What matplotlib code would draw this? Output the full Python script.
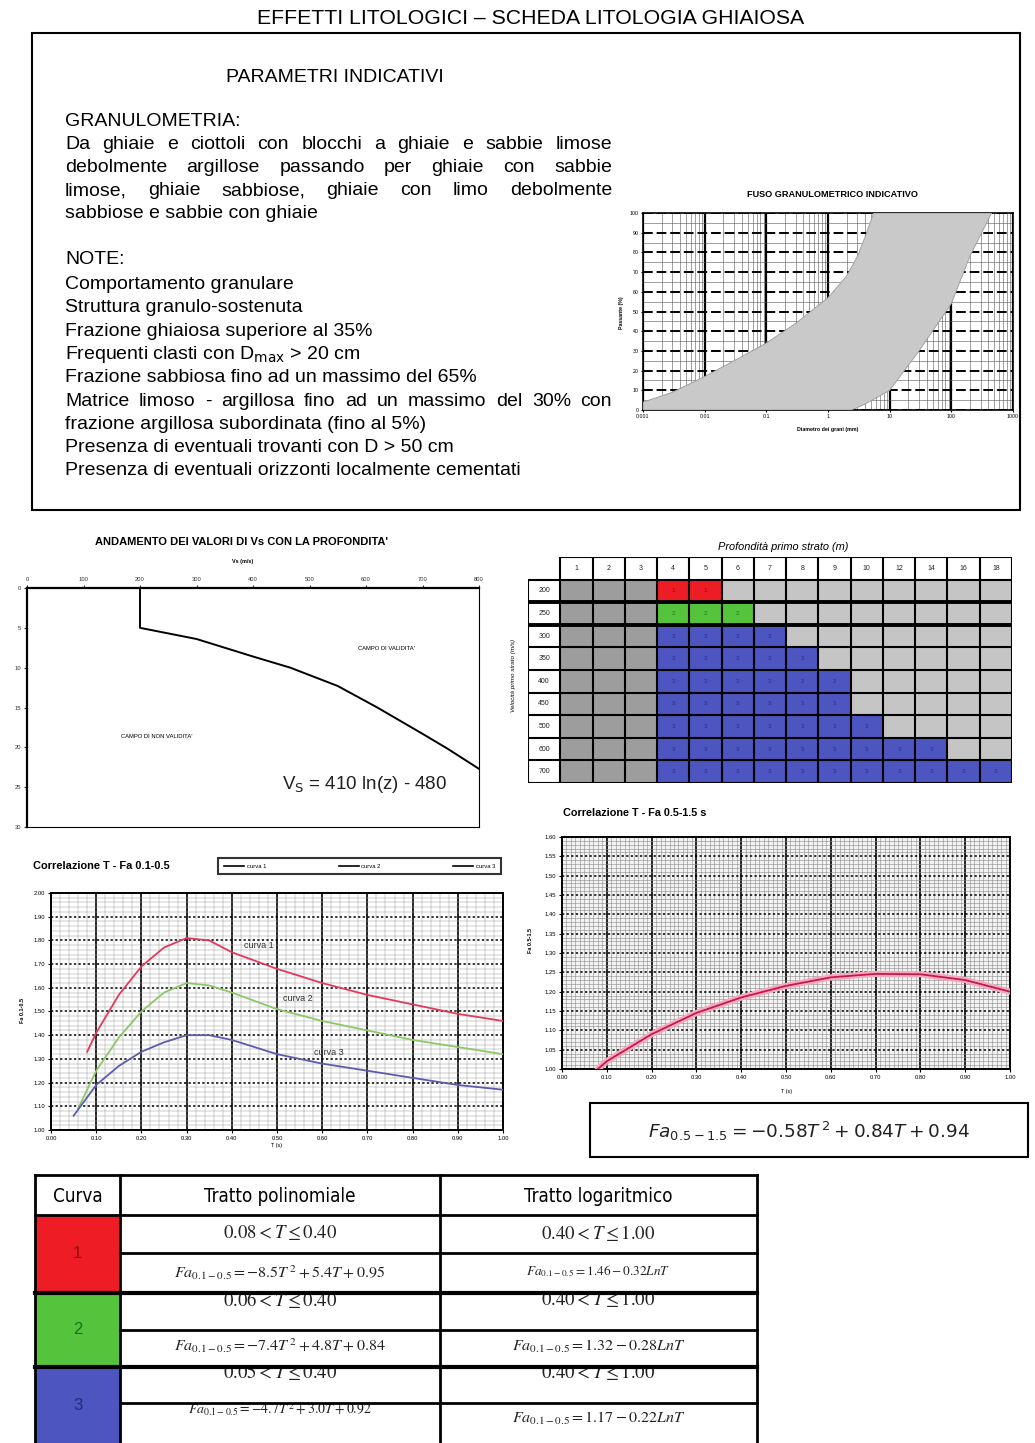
import numpy as np
import matplotlib
matplotlib.use('Agg')
import matplotlib.pyplot as plt
from matplotlib import font_manager
from matplotlib.patches import Rectangle
from matplotlib.lines import Line2D
from matplotlib.colors import ListedColormap
from matplotlib.transforms import Bbox, TransformedBbox
from matplotlib.ticker import MultipleLocator, LogLocator, NullFormatter, FormatStrFormatter

W, H = 1035, 1443

# ~ ~ ~ DATA ~ ~ ~
title = "EFFETTI LITOLOGICI – SCHEDA LITOLOGIA GHIAIOSA"
granulo_lines = ["Da ghiaie e ciottoli con blocchi a ghiaie e sabbie limose",
                 "debolmente argillose passando per ghiaie con sabbie",
                 "limose, ghiaie sabbiose, ghiaie con limo debolmente",
                 "sabbiose e sabbie con ghiaie"]
note_lines = ["Comportamento granulare",
              "Struttura granulo-sostenuta",
              "Frazione ghiaiosa superiore al 35%",
              r"Frequenti clasti con D$_{\mathrm{max}}$ > 20 cm",
              "Frazione sabbiosa fino ad un massimo del 65%",
              "Matrice limoso - argillosa fino ad un massimo del 30% con",
              "frazione argillosa subordinata (fino al 5%)",
              "Presenza di eventuali trovanti con D > 50 cm",
              "Presenza di eventuali orizzonti localmente cementati"]

# fuso granulometrico (diametro mm, passante %)
gs_fine_d = [0.001, 0.003, 0.01, 0.03, 0.1, 0.3, 1, 2, 3, 4, 5.5]
gs_fine_p = [4, 9, 17, 25, 34, 44, 57, 68, 78, 88, 100]
gs_coarse_d = [0.001, 2.4, 4, 10, 30, 100, 200, 450]
gs_coarse_p = [0, 0, 3, 10, 30, 54, 78, 100]
gs_ticks = [0.001, 0.01, 0.1, 1, 10, 100, 1000]
gs_ticklabels = ["0.001", "0.01", "0.1", "1", "10", "100", "1000"]

# Vs con la profondita'
vs_depth = [0, 5, 6.4, 8.6, 10, 12.3, 15.0, 18.3, 20.2, 22.7]
vs_vel = [200, 200, 300, 400, 466, 550, 620, 700, 745, 800]

# tabella profondita'/velocita' primo strato (-1 non valido, 0 fuori campo, n = curva)
depth_cols = [1, 2, 3, 4, 5, 6, 7, 8, 9, 10, 12, 14, 16, 18]
vel_rows = [200, 250, 300, 350, 400, 450, 500, 600, 700]
zone_matrix = [[-1, -1, -1, 1, 1, 0, 0, 0, 0, 0, 0, 0, 0, 0],
               [-1, -1, -1, 2, 2, 2, 0, 0, 0, 0, 0, 0, 0, 0],
               [-1, -1, -1, 3, 3, 3, 3, 0, 0, 0, 0, 0, 0, 0],
               [-1, -1, -1, 3, 3, 3, 3, 3, 0, 0, 0, 0, 0, 0],
               [-1, -1, -1, 3, 3, 3, 3, 3, 3, 0, 0, 0, 0, 0],
               [-1, -1, -1, 3, 3, 3, 3, 3, 3, 0, 0, 0, 0, 0],
               [-1, -1, -1, 3, 3, 3, 3, 3, 3, 3, 0, 0, 0, 0],
               [-1, -1, -1, 3, 3, 3, 3, 3, 3, 3, 3, 3, 0, 0],
               [-1, -1, -1, 3, 3, 3, 3, 3, 3, 3, 3, 3, 3, 3]]

# Correlazione T - Fa 0.1-0.5
c1_T = [0.08, 0.10, 0.15, 0.20, 0.25, 0.30, 0.35, 0.40, 0.50, 0.60, 0.70, 0.80, 0.90, 1.00]
c1_F = [1.33, 1.41, 1.57, 1.69, 1.77, 1.81, 1.80, 1.75, 1.68, 1.62, 1.57, 1.53, 1.49, 1.46]
c2_T = [0.06, 0.10, 0.15, 0.20, 0.25, 0.30, 0.35, 0.40, 0.50, 0.60, 0.70, 0.80, 0.90, 1.00]
c2_F = [1.09, 1.25, 1.39, 1.50, 1.58, 1.62, 1.61, 1.58, 1.51, 1.46, 1.42, 1.38, 1.35, 1.32]
c3_T = [0.05, 0.10, 0.15, 0.20, 0.25, 0.30, 0.35, 0.40, 0.50, 0.60, 0.70, 0.80, 0.90, 1.00]
c3_F = [1.06, 1.19, 1.27, 1.33, 1.37, 1.40, 1.40, 1.38, 1.32, 1.28, 1.25, 1.22, 1.19, 1.17]
curve_names = ["curva 1", "curva 2", "curva 3"]

# Correlazione T - Fa 0.5-1.5
f2_T = [0.08, 0.10, 0.20, 0.30, 0.40, 0.50, 0.60, 0.70, 0.80, 0.90, 1.00]
f2_F = [1.00, 1.02, 1.09, 1.145, 1.185, 1.215, 1.237, 1.246, 1.245, 1.23, 1.20]

# tabella riassuntiva
tab_header = ["Curva", "Tratto polinomiale", "Tratto logaritmico"]
tab_curves = ["1", "2", "3"]
poly_ranges = [r"$0.08 < T \leq 0.40$", r"$0.06 < T \leq 0.40$", r"$0.05 < T \leq 0.40$"]
poly_eqs = [r"$Fa_{0.1-0.5} = -8.5T^{\,2} + 5.4T + 0.95$",
            r"$Fa_{0.1-0.5} = -7.4T^{\,2} + 4.8T + 0.84$",
            r"$Fa_{0.1-0.5} = -4.7T^{\,2} + 3.0T + 0.92$"]
log_ranges = [r"$0.40 < T \leq 1.00$", r"$0.40 < T \leq 1.00$", r"$0.40 < T \leq 1.00$"]
log_eqs = [r"$Fa_{0.1-0.5} = 1.46 - 0.32LnT$",
           r"$Fa_{0.1-0.5} = 1.32 - 0.28LnT$",
           r"$Fa_{0.1-0.5} = 1.17 - 0.22LnT$"]

# ~ ~ ~ STYLE ~ ~ ~
fonts = font_manager.fontManager.ttflist
names = {f.name for f in fonts}
SANS = 'Liberation Sans' if 'Liberation Sans' in names else 'DejaVu Sans'
if 'Liberation Sans Narrow' in names:
    NARROW = dict(family='Liberation Sans Narrow')
elif any(f.name == 'DejaVu Sans' and 'condensed' in str(f.stretch) for f in fonts):
    NARROW = dict(family='DejaVu Sans', stretch='condensed')
else:
    NARROW = dict(family=SANS)
plt.rcParams['font.family'] = [SANS, 'DejaVu Sans']

RED, GREEN, BLUE = '#ee1c24', '#55c43c', '#4d55c0'
LRED, LGREEN, LBLUE = '#e33a5c', '#8cc868', '#5a5cae'


def px_rect(x0, y0, x1, y1):
    return [x0 / W, 1 - y1 / H, (x1 - x0) / W, (y1 - y0) / H]


fig = plt.figure(figsize=(W / 100, H / 100), dpi=100)
renderer = fig.canvas.get_renderer()
bg = fig.add_axes([0, 0, 1, 1], zorder=-1)
bg.set_xlim(0, W)
bg.set_ylim(H, 0)
bg.axis('off')


def fit_text(ax, x0, x1, y, s, size0=10, **kw):
    t = ax.text(x0, y, s, fontsize=size0, va='baseline', **kw)
    w = t.get_window_extent(renderer).width
    t.set_fontsize(size0 * (x1 - x0) / w)
    return t


def justify(ax, line, x0, x1, y, size):
    words = line.split(' ')
    texts = [ax.text(x0, y, w, fontsize=size, va='baseline') for w in words]
    widths = [t.get_window_extent(renderer).width for t in texts]
    gap = (x1 - x0 - sum(widths)) / (len(words) - 1)
    x = x0
    for t, w in zip(texts, widths):
        t.set_x(x)
        x += w + gap


# ---- top section ----
fit_text(bg, 257, 805, 24, title)
bg.add_patch(Rectangle((32, 33), 988, 477, fill=False, lw=1.5, ec='black'))

probe = fit_text(bg, 65, 530, 475, note_lines[-1])
body = probe.get_fontsize() * 0.98
probe.set_fontsize(body)
bg.text(226, 82, "PARAMETRI INDICATIVI", fontsize=body, va='baseline')
bg.text(65, 126, "GRANULOMETRIA:", fontsize=body, va='baseline')
for i, line in enumerate(granulo_lines):
    y = 149 + 23 * i
    if i < len(granulo_lines) - 1:
        justify(bg, line, 65, 612, y, body)
    else:
        bg.text(65, y, line, fontsize=body, va='baseline')
bg.text(65, 264, "NOTE:", fontsize=body, va='baseline')
for i, line in enumerate(note_lines[:-1]):
    y = 289 + 23.3 * i
    if i == 5:
        justify(bg, line, 65, 612, y, body)
    else:
        bg.text(65, y, line, fontsize=body, va='baseline')

# ---- fuso granulometrico ----
ax_gs = fig.add_axes(px_rect(643, 213, 1013, 410))
ax_gs.set_xscale('log')
ax_gs.set_xlim(0.001, 1000)
ax_gs.set_ylim(0, 100)
ax_gs.fill(np.r_[gs_fine_d, gs_coarse_d[::-1]], np.r_[gs_fine_p, gs_coarse_p[::-1]],
           fc='#c9c9c9', ec='#9a9a9a', lw=0.6, zorder=3)
ax_gs.set_xticks(gs_ticks)
ax_gs.set_xticklabels(gs_ticklabels)
ax_gs.xaxis.set_minor_locator(LogLocator(base=10, subs=np.arange(2, 10)))
ax_gs.xaxis.set_minor_formatter(NullFormatter())
ax_gs.set_yticks(range(0, 101, 10))
ax_gs.yaxis.set_minor_locator(MultipleLocator(5))
ax_gs.set_axisbelow(True)
ax_gs.grid(which='minor', color='#555555', lw=0.4)
ax_gs.grid(which='major', axis='x', color='k', lw=1.6)
ax_gs.grid(which='major', axis='y', color='k', lw=1.4, ls=(0, (5, 2)))
ax_gs.tick_params(which='both', labelsize=3.8, length=1.5, pad=1.5)
ax_gs.tick_params(which='minor', length=0)
for s in ax_gs.spines.values():
    s.set_linewidth(1.2)
fit_text(bg, 747, 918, 197, "FUSO GRANULOMETRICO INDICATIVO", size0=5, weight='bold')
bg.text(828, 430, "Diametro dei grani (mm)", fontsize=3.8, weight='bold', ha='center', va='center')
bg.text(621, 313, "Passante (%)", fontsize=3.8, weight='bold', rotation=90, ha='center', va='center')

# ---- Vs con la profondita' ----
ax_vs = fig.add_axes(px_rect(27, 588, 479, 827))
ax_vs.plot(vs_vel, vs_depth, color='black', lw=1.4)
ax_vs.set_xlim(0, 800)
ax_vs.set_ylim(30, 0)
ax_vs.xaxis.tick_top()
ax_vs.set_xticks(range(0, 801, 100))
ax_vs.set_yticks(range(0, 31, 5))
ax_vs.tick_params(labelsize=4.2, length=2, pad=2, colors='#333333')
for s in ax_vs.spines.values():
    s.set_linewidth(0.8)
ax_vs.spines['top'].set_linewidth(1.6)
ax_vs.spines['left'].set_linewidth(1.6)
ax_vs.text(637, 7.6, "CAMPO DI VALIDITA'", fontsize=4.2, ha='center', va='center')
ax_vs.text(230, 18.7, "CAMPO DI NON VALIDITA'", fontsize=4.2, ha='center', va='center')
ax_vs.text(598, 24.7, r"V$_\mathrm{S}$ = 410 ln(z) - 480", fontsize=13.5, ha='center', va='center',
           color='#222222')
fit_text(bg, 95, 390, 545, "ANDAMENTO DEI VALORI DI Vs CON LA PROFONDITA'", size0=5, weight='bold')
bg.text(243, 561, "Vs (m/s)", fontsize=4, weight='bold', ha='center', va='center')

# ---- tabella zone ----
ax_tb = fig.add_axes(px_rect(528, 557, 1012, 783))
nr, nc = len(vel_rows), len(depth_cols)
ax_tb.set_xlim(-1, nc)
ax_tb.set_ylim(nr, -1)
ax_tb.axis('off')
cmap = ListedColormap(['#9d9d9d', '#c5c5c5', RED, GREEN, BLUE])
ax_tb.pcolormesh(np.arange(nc + 1), np.arange(nr + 1), np.array(zone_matrix),
                 cmap=cmap, vmin=-1.5, vmax=3.5)
digit_colors = {1: '#8a1010', 2: '#2d7a22', 3: '#2a2f88'}
for i, row in enumerate(zone_matrix):
    for j, v in enumerate(row):
        if v > 0:
            ax_tb.text(j + 0.5, i + 0.5, str(v), fontsize=4.5, ha='center', va='center',
                       color=digit_colors[v])
for j, d in enumerate(depth_cols):
    ax_tb.text(j + 0.5, -0.5, str(d), fontsize=5, ha='center', va='center', color='#222222')
for i, v in enumerate(vel_rows):
    ax_tb.text(-0.5, i + 0.5, str(v), fontsize=5, ha='center', va='center', color='#222222')
ax_tb.vlines(np.arange(nc + 1), -1, nr, color='black', lw=1.5)
ax_tb.vlines(-1, 0, nr, color='black', lw=1.5)
ax_tb.hlines(np.arange(nr + 1), -1, nc, color='black', lw=1.5)
ax_tb.hlines([1, 2], -1, nc, color='black', lw=2.8)
ax_tb.hlines(-1, 0, nc, color='black', lw=1.5)
fit_text(bg, 718, 850, 550, "Profondità primo strato (m)", size0=5, style='italic')
bg.text(513, 675, "Velocità primo strato (m/s)", fontsize=4.5, style='italic', rotation=90,
        ha='center', va='center')

# ---- Correlazione T - Fa 0.1-0.5 ----
ax1 = fig.add_axes(px_rect(51, 893, 503, 1130))
for T, F, c in zip([c1_T, c2_T, c3_T], [c1_F, c2_F, c3_F], [LRED, LGREEN, LBLUE]):
    ax1.plot(T, F, color=c, lw=1.3, zorder=3)
ax1.set_xlim(0, 1)
ax1.set_ylim(1, 2)
ax1.set_xticks(np.arange(0, 1.001, 0.1))
ax1.set_yticks(np.arange(1, 2.001, 0.1))
ax1.xaxis.set_major_formatter(FormatStrFormatter('%.2f'))
ax1.yaxis.set_major_formatter(FormatStrFormatter('%.2f'))
ax1.xaxis.set_minor_locator(MultipleLocator(0.02))
ax1.yaxis.set_minor_locator(MultipleLocator(0.02))
ax1.set_axisbelow(True)
ax1.grid(which='minor', color='#9a9a9a', lw=0.35)
ax1.grid(which='major', axis='x', color='black', lw=1.2)
ax1.grid(which='major', axis='y', color='black', lw=1.1, ls=(0, (1.5, 1.5)))
ax1.tick_params(which='major', labelsize=4.2, length=2, pad=2)
ax1.tick_params(which='minor', length=0)
for s in ax1.spines.values():
    s.set_linewidth(1.4)
label_pos = [(0.46, 1.78), (0.545, 1.555), (0.615, 1.325)]
for (tx, ty), name in zip(label_pos, curve_names):
    ax1.text(tx, ty, name, fontsize=6.5, color='#333333', ha='center', va='center', zorder=4)
fit_text(bg, 33, 172, 869, "Correlazione T - Fa 0.1-0.5", size0=6, weight='bold')
bg.text(22, 1010, "Fa 0.1-0.5", fontsize=4, weight='bold', rotation=90, ha='center', va='center')
bg.text(277, 1146, "T (s)", fontsize=4, ha='center', va='center')
leg = fig.legend([Line2D([], [], color='black', lw=1.2)] * 3, curve_names, ncol=3, mode='expand',
                 loc='center', bbox_to_anchor=px_rect(218, 856, 501, 876), fontsize=4.2,
                 frameon=True, fancybox=False, edgecolor='black', borderpad=1.0,
                 handlelength=3.5, handletextpad=0.4, borderaxespad=0)
leg.get_frame().set_linewidth(1.5)

# ---- Correlazione T - Fa 0.5-1.5 ----
ax2 = fig.add_axes(px_rect(562, 837, 1010, 1069))
ax2.set_facecolor('#f2f2f2')
ax2.plot(f2_T, f2_F, color='#f5a9c0', lw=4.5, zorder=3, solid_capstyle='round')
ax2.plot(f2_T, f2_F, color='#c41a4a', lw=1.3, zorder=4)
ax2.set_xlim(0, 1)
ax2.set_ylim(1, 1.6)
ax2.set_xticks(np.arange(0, 1.001, 0.1))
ax2.set_yticks(np.arange(1, 1.6001, 0.05))
ax2.xaxis.set_major_formatter(FormatStrFormatter('%.2f'))
ax2.yaxis.set_major_formatter(FormatStrFormatter('%.2f'))
ax2.xaxis.set_minor_locator(MultipleLocator(0.01))
ax2.yaxis.set_minor_locator(MultipleLocator(0.01))
ax2.set_axisbelow(True)
ax2.grid(which='minor', color='#8a8a8a', lw=0.4)
ax2.grid(which='major', axis='x', color='black', lw=1.2)
ax2.grid(which='major', axis='y', color='black', lw=1.1, ls=(0, (1.5, 1.5)))
ax2.tick_params(which='major', labelsize=4.2, length=2, pad=2)
ax2.tick_params(which='minor', length=0)
for s in ax2.spines.values():
    s.set_linewidth(1.4)
fit_text(bg, 563, 710, 816, "Correlazione T - Fa 0.5-1.5 s", size0=6, weight='bold')
bg.text(530, 940, "Fa 0.5-1.5", fontsize=4, weight='bold', rotation=90, ha='center', va='center')
bg.text(787, 1092, "T (s)", fontsize=4, ha='center', va='center')

bg.add_patch(Rectangle((590, 1103), 438, 54, fill=False, lw=1.5, ec='black'))
fit_text(bg, 648, 970, 1138, r"$Fa_{0.5-1.5} = -0.58T^{\,2} + 0.84T + 0.94$", size0=14,
         color='#222222')

# ---- tabella riassuntiva ----
tab_x = [35, 120, 440, 757]
tab_y = [1175, 1215, 1253, 1293, 1330, 1367, 1403, 1443]
range_y = [1233, 1299, 1372]
poly_y = [1273, 1346, 1409]
log_y = [1271, 1346, 1418]
poly_size = [11.5, 11.5, 10]
log_size = [9.5, 11.5, 11.5]
cell_colors = [RED, GREEN, BLUE]
num_colors = ['#8a1010', '#1f6a1f', '#232a80']

for k, c in enumerate(cell_colors):
    y0, y1 = tab_y[1 + 2 * k], tab_y[3 + 2 * k]
    bg.add_patch(Rectangle((tab_x[0], y0), tab_x[1] - tab_x[0], y1 - y0, color=c, zorder=1))
    bg.text((tab_x[0] + tab_x[1]) / 2, (y0 + y1) / 2, tab_curves[k], fontsize=12,
            color=num_colors[k], ha='center', va='center', zorder=2)

for j, h in enumerate(tab_header):
    bg.text((tab_x[j] + tab_x[j + 1]) / 2, 1197, h, fontsize=13.5, ha='center', va='center',
            **NARROW)


def cell_text(x0, x1, ytop, ybot, y, s, size):
    t = bg.text((x0 + x1) / 2, y, s, fontsize=size, ha='center', va='center',
                math_fontfamily='stix', color='#222222', zorder=2)
    t.set_clip_box(TransformedBbox(Bbox([[x0, ytop], [x1, ybot]]), bg.transData))
    t.set_clip_on(True)


for k in range(3):
    r0 = 1 + 2 * k
    for (x0, x1), rng, eq, ey, es in [((tab_x[1], tab_x[2]), poly_ranges[k], poly_eqs[k], poly_y[k], poly_size[k]),
                                      ((tab_x[2], tab_x[3]), log_ranges[k], log_eqs[k], log_y[k], log_size[k])]:
        cell_text(x0, x1, tab_y[r0], tab_y[r0 + 1], range_y[k], rng, 13.5)
        cell_text(x0, x1, tab_y[r0 + 1], tab_y[r0 + 2], ey, eq, es)

for i, y in enumerate(tab_y[:-1]):
    x_start = tab_x[1] if i in (2, 4, 6) else tab_x[0]
    lw = 3.0 if i in (3, 5) else 2.0
    bg.plot([x_start, tab_x[-1]], [y, y], color='black', lw=lw, zorder=3)
for x in tab_x:
    bg.plot([x, x], [tab_y[0], H], color='black', lw=2.0, zorder=3)

fig.savefig('out.png', dpi=100, facecolor='white')
